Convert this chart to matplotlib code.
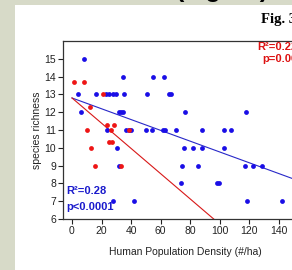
import numpy as np
import matplotlib.pyplot as plt
from matplotlib.patches import Rectangle

plt.rcParams['font.family'] = ['Liberation Sans', 'DejaVu Sans']

# blue sites (all)
blue_x = [8.3, 3.8, 6.3, 16.5, 23.3, 25.3, 27.6, 30.0, 31.9, 33.4, 34.6, 34.6, 35.3,
          23.5, 36.4, 38.4, 40.2, 30.3, 50.0, 54.0, 50.8, 54.7, 62.6, 61.5, 62.8,
          66.0, 66.9, 76.6, 118.0, 70.7, 88.3, 103.3, 108.0, 75.7, 81.8, 88.3, 102.8,
          74.6, 85.2, 117.3, 122.7, 128.8, 73.9, 98.5, 99.5, 118.6, 142.2, 31.9, 28.0, 42.0]
blue_y = [15, 13, 12, 13, 13, 13, 13, 13, 12, 12, 12, 14, 13,
          11, 11, 11, 11, 10, 11, 11, 13, 14, 14, 11, 11,
          13, 13, 12, 12, 11, 11, 11, 11, 10, 10, 10, 10,
          9, 9, 9, 9, 9, 8, 8, 8, 7, 7, 9, 7, 7]

# red sites
red_x = [1.6, 8.3, 21.0, 12.4, 10.0, 13.1, 23.9, 28.5, 26.4, 25.3, 27.1, 38.4, 15.8, 33.2]
red_y = [13.7, 13.7, 13.0, 12.3, 11.0, 10.0, 11.3, 11.3, 11.0, 10.3, 10.3, 11.0, 9.0, 9.0]

# fitted lines (intercept, slope)
blue_fit = (12.8, -0.0303)
red_fit = (12.8, -0.0708)

fig = plt.figure(figsize=(2.92, 2.70), dpi=100, facecolor='#d7dac8')
# slide title peeking in above the white panel
fig.text(176/292, 1 + 3/270, "(Figure)", fontsize=18, weight='bold', color='black',
         va='baseline', ha='left')
fig.add_artist(Rectangle((15/292, 0), 1, 1 - 5/270, transform=fig.transFigure,
                         facecolor='white', edgecolor='none', zorder=-1))
fig.text(261/292, 1 - 20/270, "Fig. 3", family=['Liberation Serif', 'DejaVu Serif'],
         fontsize=10.5, weight='bold', va='center', ha='left')

ax = fig.add_axes([63/292, 51/270, 257/292, 178/270])
ax.set_facecolor('white')

ax.scatter(blue_x, blue_y, s=12, color='#1a0ee6', zorder=3, linewidths=0)
ax.scatter(red_x, red_y, s=12, color='#ee1515', zorder=3, linewidths=0)

xs = np.array([0, 170])
ax.plot(xs, blue_fit[0] + blue_fit[1]*xs, color='#2828c8', lw=0.8, zorder=2)
ax.plot(xs, red_fit[0] + red_fit[1]*xs, color='#d81818', lw=0.8, zorder=2)

ax.set_xlim(-6.1, 168.1)
ax.set_ylim(6, 16)
ax.set_xticks(np.arange(0, 141, 20))
ax.set_yticks(np.arange(6, 16, 1))
ax.tick_params(direction='out', length=3.5, width=0.8, labelsize=7.5,
               colors='#222222', pad=1.5)
for sp in ax.spines.values():
    sp.set_color('#333333')
    sp.set_linewidth(0.9)

ax.set_xlabel("Human Population Density (#/ha)", fontsize=7.5, color='#222222')
ax.xaxis.set_label_coords((185-63)/257, -0.155)
ax.set_ylabel("species richness", fontsize=7.5, color='#222222')
ax.yaxis.set_label_coords(-(63-42)/257, 0.5)

ax.text((66-63)/257, 1 - (191.5-41)/178, "R²=0.28", transform=ax.transAxes,
        fontsize=8, weight='bold', color='#1a1acc', va='center', ha='left')
ax.text((66-63)/257, 1 - (206.5-41)/178, "p<0.0001", transform=ax.transAxes,
        fontsize=8, weight='bold', color='#1a1acc', va='center', ha='left')
ax.text((257-63)/257, 1 - (47-41)/178, "R²=0.22", transform=ax.transAxes,
        fontsize=8, weight='bold', color='#dd1111', va='center', ha='left')
ax.text((262-63)/257, 1 - (59-41)/178, "p=0.06", transform=ax.transAxes,
        fontsize=8, weight='bold', color='#dd1111', va='center', ha='left')

fig.savefig("out.png", dpi=100, facecolor=fig.get_facecolor())
